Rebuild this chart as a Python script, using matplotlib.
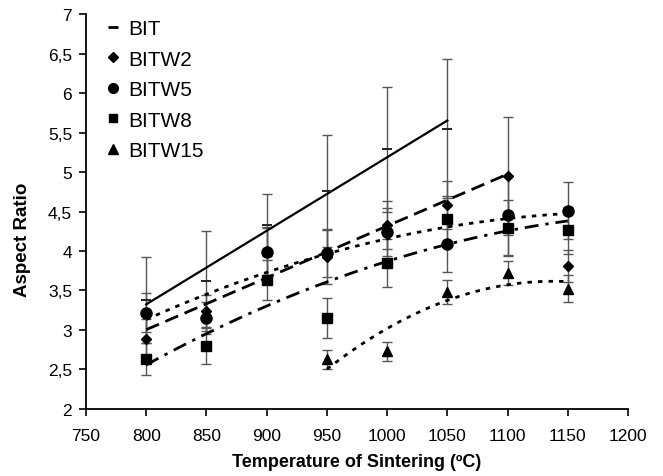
import numpy as np
import matplotlib
matplotlib.use('Agg')
import matplotlib.pyplot as plt
from matplotlib.lines import Line2D
from matplotlib.ticker import FuncFormatter

plt.rcParams['font.family'] = ['Liberation Sans', 'DejaVu Sans']

# Sintering temperatures (ºC)
temps = [800, 850, 900, 950, 1000, 1050, 1100, 1150]

# Aspect ratio per composition
bit_t = [800, 850, 900, 950, 1000, 1050]
bit = [3.38, 3.62, 4.33, 4.76, 5.29, 5.55]
bit_err = [0.54, 0.63, 0.39, 0.71, 0.79, 0.88]

bitw2 = [2.89, 3.24, 4.00, 3.93, 4.33, 4.58, 4.95, 3.81]
bitw2_err = [0.25, 0.20, 0.30, 0.35, 0.30, 0.30, 0.75, 0.20]

bitw5 = [3.22, 3.15, 3.99, 3.97, 4.24, 4.09, 4.45, 4.51]
bitw5_err = [0.25, 0.20, 0.30, 0.30, 0.30, 0.35, 0.50, 0.36]

bitw8 = [2.63, 2.80, 3.63, 3.15, 3.85, 4.40, 4.29, 4.26]
bitw8_err = [0.20, 0.23, 0.25, 0.25, 0.30, 0.30, 0.35, 0.30]

bitw15_t = [950, 1000, 1050, 1100, 1150]
bitw15 = [2.63, 2.73, 3.48, 3.72, 3.52]
bitw15_err = [0.12, 0.12, 0.15, 0.15, 0.17]

fig = plt.figure(figsize=(6.63, 4.77), dpi=100)
ax = fig.add_axes([0.1297, 0.1405, 0.8175, 0.828])

err_kw = dict(fmt='none', ecolor='#555555', elinewidth=1, capsize=3.5, capthick=1, zorder=1)
ax.errorbar(bit_t, bit, yerr=bit_err, **err_kw)
ax.errorbar(temps, bitw2, yerr=bitw2_err, **err_kw)
ax.errorbar(temps, bitw5, yerr=bitw5_err, **err_kw)
ax.errorbar(temps, bitw8, yerr=bitw8_err, **err_kw)
ax.errorbar(bitw15_t, bitw15, yerr=bitw15_err, **err_kw)

ax.plot(bit_t, bit, ls='none', marker='_', ms=7, mew=1.4, color='#222222', zorder=3)
ax.plot(temps, bitw2, ls='none', marker='D', ms=5.5, color='black', zorder=3)
ax.plot(temps, bitw5, ls='none', marker='o', ms=8, color='black', zorder=3)
ax.plot(temps, bitw8, ls='none', marker='s', ms=7, color='black', zorder=3)
ax.plot(bitw15_t, bitw15, ls='none', marker='^', ms=7.5, color='black', zorder=3)

# Trendlines, as in the spreadsheet: linear and 2nd-order polynomial fits
def trend(x, y, deg, **kw):
    x = np.asarray(x, dtype=float)
    c = np.polyfit(x, y, deg)
    xs = np.linspace(x.min(), x.max(), 100)
    ax.plot(xs, np.polyval(c, xs), color='black', zorder=2, **kw)

trend(bit_t, bit, 1, lw=1.6, ls='-')
trend(temps[:7], bitw2[:7], 1, lw=2, ls=(0, (5, 2.5)))
trend(temps, bitw5, 2, lw=2, ls=(0, (1.6, 2.2)))
trend(temps, bitw8, 2, lw=2, ls=(0, (5, 2.5, 1.2, 2.5)))
trend(bitw15_t, bitw15, 2, lw=2, ls=(0, (1.6, 2.2)))

ax.set_xlim(750, 1200)
ax.set_ylim(2, 7)
ax.set_xticks(np.arange(750, 1201, 50))
ax.set_yticks(np.arange(2, 7.01, 0.5))
ax.yaxis.set_major_formatter(FuncFormatter(lambda v, p: ('%g' % v).replace('.', ',')))
ax.spines['top'].set_visible(False)
ax.spines['right'].set_visible(False)
for s in ['left', 'bottom']:
    ax.spines[s].set_linewidth(1.3)
ax.tick_params(direction='out', length=5, width=1.2, labelsize=12.5)
ax.tick_params(axis='x', pad=9)
ax.tick_params(axis='y', pad=5)

ax.set_xlabel('Temperature of Sintering (ºC)', fontsize=13, fontweight='bold', labelpad=7)
ax.set_ylabel('Aspect Ratio', fontsize=13.5, fontweight='bold')
ax.yaxis.set_label_coords(-0.101, 0.43)

handles = [
    Line2D([], [], ls='none', marker='_', ms=7, mew=2, color='black'),
    Line2D([], [], ls='none', marker='D', ms=5.5, color='black'),
    Line2D([], [], ls='none', marker='o', ms=7, color='black'),
    Line2D([], [], ls='none', marker='s', ms=6, color='black'),
    Line2D([], [], ls='none', marker='^', ms=7, color='black'),
]
ax.legend(handles, ['BIT', 'BITW2', 'BITW5', 'BITW8', 'BITW15'], loc='upper left',
          bbox_to_anchor=(0.139, 0.975), bbox_transform=fig.transFigure, borderaxespad=0,
          frameon=False, fontsize=15, handletextpad=0.15, labelspacing=0.55, handlelength=1.2)

fig.savefig('out.png', dpi=100)
